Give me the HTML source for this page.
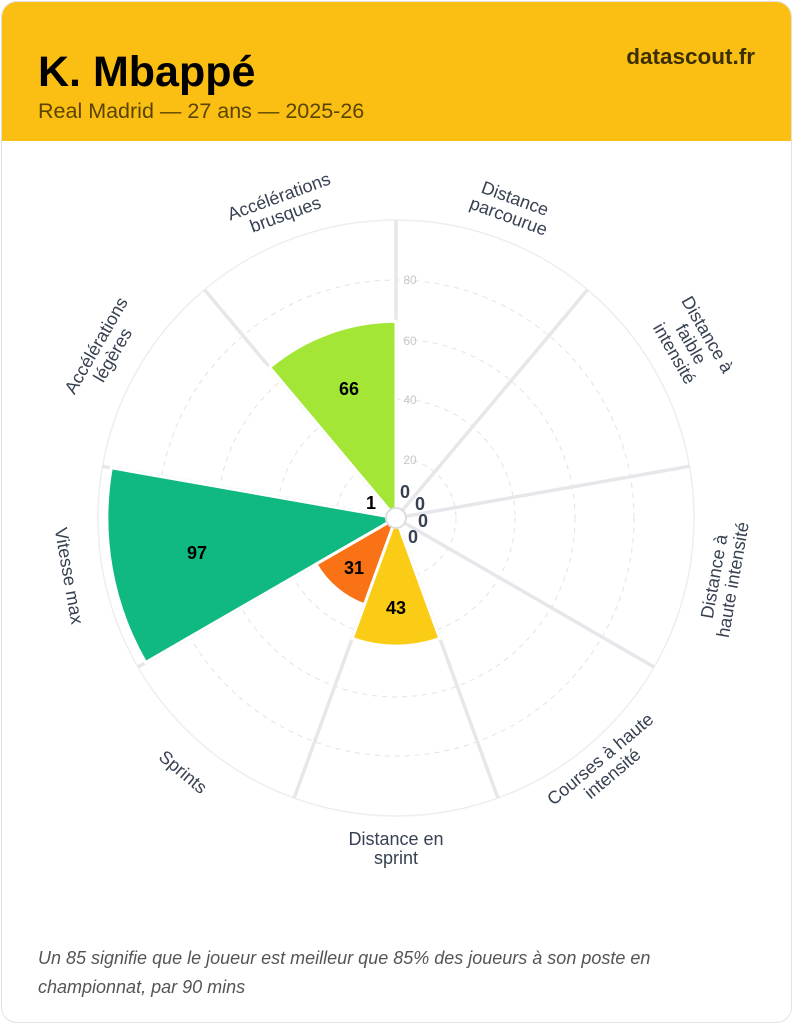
<!DOCTYPE html>
<html><head><meta charset="utf-8"><style>
body{margin:0;background:#fff;font-family:"Liberation Sans",Arial,sans-serif}
.card{position:absolute;left:1px;top:1px;width:789px;height:1020px;border:1px solid #e2e2e2;border-radius:16px;overflow:hidden;background:#fff}
.hdr{position:absolute;left:0;top:0;width:100%;height:139px;background:#fbbf14}
.t{position:absolute;left:36px;top:46px;font-size:43px;font-weight:bold;color:#000}
.s{position:absolute;left:36px;top:97px;font-size:21.5px;color:#5a4500}
.b{position:absolute;right:36px;top:42px;font-size:22.5px;font-weight:bold;color:#3b2f00}
.f{position:absolute;left:36px;top:942px;font-size:18px;font-style:italic;color:#555;line-height:29px;width:700px}
svg{position:absolute;left:0;top:0}
</style></head><body><div class="card">
<div class="hdr"><div class="t">K. Mbappé</div><div class="s">Real Madrid — 27 ans — 2025-26</div><div class="b">datascout.fr</div></div>
<div class="f">Un 85 signifie que le joueur est meilleur que 85% des joueurs à son poste en championnat, par 90 mins</div>
</div>
<svg width="793" height="1024" viewBox="0 0 793 1024" font-family="Liberation Sans, Arial, sans-serif">
<circle cx="396" cy="518" r="298" fill="none" stroke="#eeeeee" stroke-width="1.5"/>
<g fill="none" stroke="#e3e3e3" stroke-dasharray="5,5">
<circle cx="396" cy="518" r="60"/><circle cx="396" cy="518" r="119"/><circle cx="396" cy="518" r="179"/><circle cx="396" cy="518" r="238"/>
</g>
<g stroke="#e5e7eb" stroke-width="3.5">
<line x1="396" y1="518" x2="396" y2="220"/>
<line x1="396" y1="518" x2="587.5" y2="289.7"/>
<line x1="396" y1="518" x2="689.5" y2="466.3"/>
<line x1="396" y1="518" x2="654.1" y2="667"/>
<line x1="396" y1="518" x2="497.9" y2="798"/>
<line x1="396" y1="518" x2="294.1" y2="798"/>
<line x1="396" y1="518" x2="137.9" y2="667"/>
<line x1="396" y1="518" x2="102.5" y2="466.3"/>
<line x1="396" y1="518" x2="204.5" y2="289.7"/>
</g>
<g font-size="12" fill="#c8c8c8" text-anchor="middle">
<text x="410" y="284">80</text><text x="410" y="345">60</text><text x="410" y="404">40</text><text x="410" y="464">20</text>
</g>
<g stroke="#fff" stroke-width="3">
<path d="M396,518 L269.6,367.3 A196.7,196.7 0 0 1 396,321.3 Z" fill="#a3e635"/>
<path d="M396,518 L145.6,662.5 A289.1,289.1 0 0 1 111.3,467.8 Z" fill="#10b981"/>
<path d="M396,518 L364.4,604.8 A92.4,92.4 0 0 1 316,564.2 Z" fill="#f97316"/>
<path d="M396,518 L439.8,638.4 A128.1,128.1 0 0 1 352.2,638.4 Z" fill="#facc15"/>
</g>
<circle cx="396" cy="518" r="10" fill="#fff" stroke="#ddd" stroke-width="2"/>
<g font-size="18" font-weight="bold" fill="#000" text-anchor="middle" dominant-baseline="central">
<text x="349" y="389">66</text><text x="197" y="553">97</text><text x="354" y="568">31</text><text x="396" y="608">43</text>
<text x="371" y="503">1</text>
</g>
<g font-size="18" font-weight="bold" fill="#374151" text-anchor="middle" dominant-baseline="central">
<text x="405" y="492">0</text><text x="420" y="504">0</text><text x="423" y="521">0</text><text x="413" y="537">0</text>
</g>
<g font-size="18" fill="#374151" text-anchor="middle">
<text transform="translate(512,207) rotate(20)"><tspan x="0" y="-3">Distance</tspan><tspan x="0" y="16">parcourue</tspan></text>
<text transform="translate(684,348) rotate(60)"><tspan x="0" y="-21">Distance à</tspan><tspan x="0" y="-2">faible</tspan><tspan x="0" y="17">intensité</tspan></text>
<text transform="translate(723,578) rotate(-80)"><tspan x="0" y="-3">Distance à</tspan><tspan x="0" y="16">haute intensité</tspan></text>
<text transform="translate(606,766) rotate(-40)"><tspan x="0" y="-3">Courses à haute</tspan><tspan x="0" y="16">intensité</tspan></text>
<text transform="translate(396,848)"><tspan x="0" y="-3">Distance en</tspan><tspan x="0" y="16">sprint</tspan></text>
<text transform="translate(183,772) rotate(40)"><tspan x="0" y="6">Sprints</tspan></text>
<text transform="translate(69,576) rotate(80)"><tspan x="0" y="6">Vitesse max</tspan></text>
<text transform="translate(104,350) rotate(-60)"><tspan x="0" y="-3">Accélérations</tspan><tspan x="0" y="16">légères</tspan></text>
<text transform="translate(282,205) rotate(-20)"><tspan x="0" y="-3">Accélérations</tspan><tspan x="0" y="16">brusques</tspan></text>
</g>
</svg>
</body></html>
